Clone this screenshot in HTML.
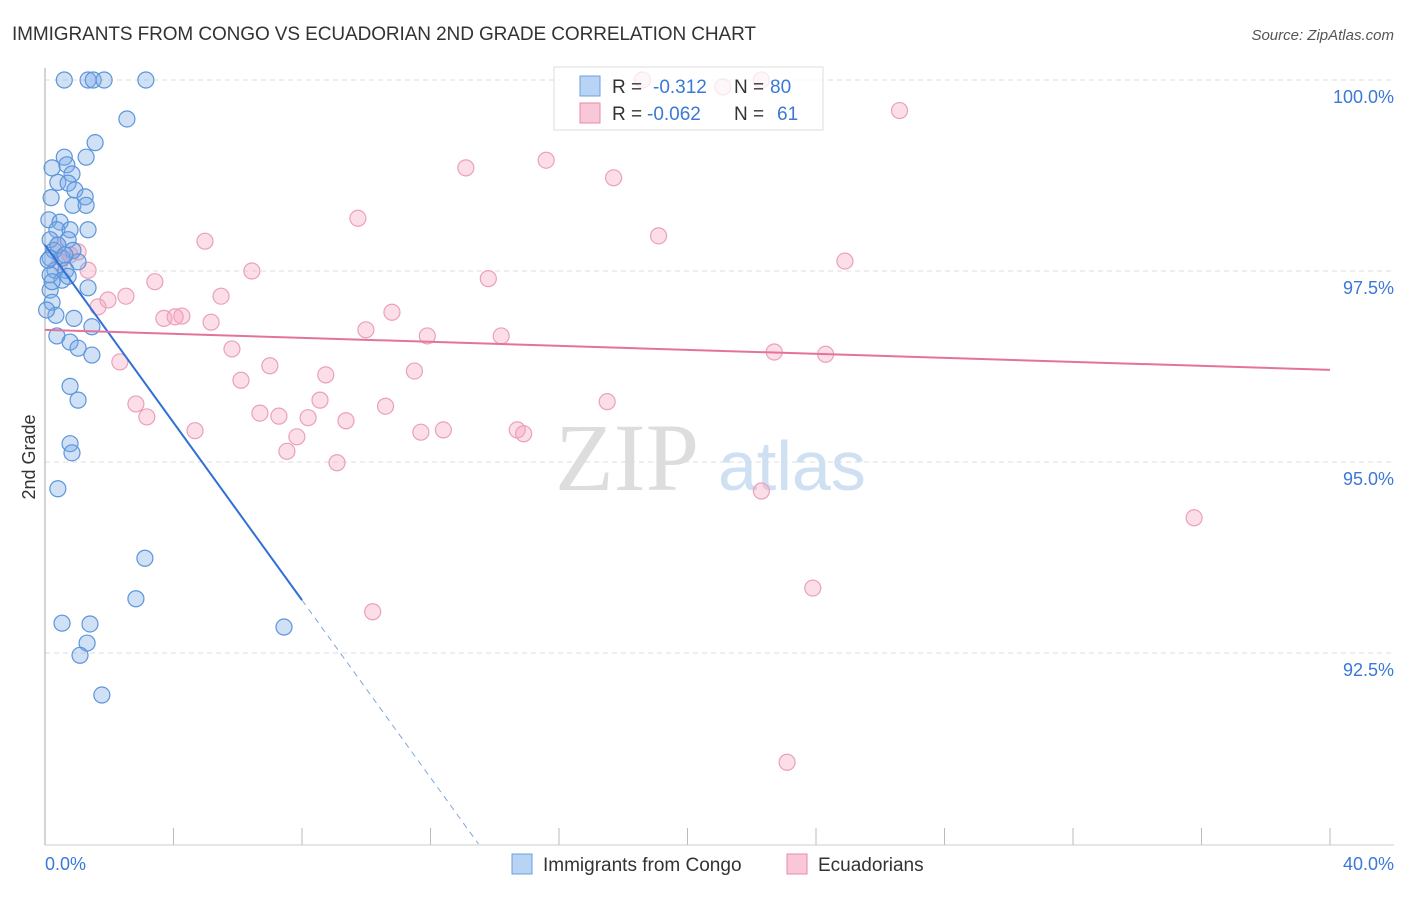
<!DOCTYPE html>
<html><head><meta charset="utf-8"><style>
body{margin:0;background:#fff;font-family:"Liberation Sans",sans-serif;}
</style></head><body>
<svg width="1406" height="892" xmlns="http://www.w3.org/2000/svg">
<text x="12" y="40" font-size="19" fill="#333" textLength="744">IMMIGRANTS FROM CONGO VS ECUADORIAN 2ND GRADE CORRELATION CHART</text>
<text x="1394" y="40" font-size="15" fill="#555" text-anchor="end" font-style="italic">Source: ZipAtlas.com</text>
<g id="grid"></g>
<g>
<text x="555" y="490" font-size="96" font-family="Liberation Serif,serif" fill="#ddd">ZIP</text>
<text x="718" y="490" font-size="70" fill="#cfe0f3">atlas</text>
</g>
<line x1="45" y1="68" x2="45" y2="845" stroke="#aaa"/>
<line x1="45" y1="845" x2="1394" y2="845" stroke="#ccc"/>
<text x="35" y="457" font-size="18" fill="#333" text-anchor="middle" transform="rotate(-90 35 457)">2nd Grade</text>
<text x="45" y="870" font-size="18" fill="#3b78d8">0.0%</text>
<text x="1394" y="870" font-size="18" fill="#3b78d8" text-anchor="end">40.0%</text>
<g id="pts"></g>
<g id="lines"></g>
<g>
<rect x="554" y="67" width="269" height="63" fill="rgba(255,255,255,0.75)" stroke="#ddd"/>
<rect x="580" y="76" width="20" height="20" fill="#b8d3f3" stroke="#6a9fe0"/>
<rect x="580" y="103" width="20" height="20" fill="#f9c8d8" stroke="#e98aa9"/>
<text x="612" y="93" font-size="19" fill="#333">R =</text>
<text x="653" y="93" font-size="19" fill="#3b78d8">-0.312</text>
<text x="734" y="93" font-size="19" fill="#333">N =</text>
<text x="770" y="93" font-size="19" fill="#3b78d8">80</text>
<text x="612" y="120" font-size="19" fill="#333">R =</text>
<text x="647" y="120" font-size="19" fill="#3b78d8">-0.062</text>
<text x="734" y="120" font-size="19" fill="#333">N =</text>
<text x="777" y="120" font-size="19" fill="#3b78d8">61</text>
</g>
<g>
<rect x="512" y="854" width="20" height="20" fill="#b8d3f3" stroke="#6a9fe0"/>
<text x="543" y="871" font-size="19" fill="#333">Immigrants from Congo</text>
<rect x="787" y="854" width="20" height="20" fill="#f9c8d8" stroke="#e98aa9"/>
<text x="818" y="871" font-size="19" fill="#333">Ecuadorians</text>
</g>
</svg>
<script>
const yTicks=[100,97.5,95,92.5];
const yTickLabels=["100.0%","97.5%","95.0%","92.5%"];
const xTicks=[0,4,8,12,16,20,24,28,32,36,40];
const congoX=[0.6,1.34,1.5,1.84,3.14,2.55,1.56,1.28,0.6,0.22,0.68,0.84,0.4,0.72,0.93,1.25,0.19,0.87,1.28,0.12,0.47,0.37,0.78,1.34,0.16,0.72,0.28,0.87,0.16,0.53,1.03,0.31,0.65,0.16,0.53,1.34,0.16,0.22,0.34,0.9,1.46,0.37,0.78,1.03,1.46,0.78,1.03,0.78,0.84,0.4,3.11,2.83,0.53,1.4,1.31,1.09,1.77,7.44,0.1,0.4,0.62,0.05,0.22,0.72];
const congoY=[100,100,100,100,100,99.49,99.18,98.99,98.99,98.85,98.89,98.77,98.66,98.65,98.56,98.47,98.46,98.36,98.36,98.17,98.14,98.04,98.04,98.04,97.91,97.91,97.77,97.77,97.67,97.67,97.62,97.51,97.51,97.45,97.38,97.28,97.25,97.09,96.92,96.88,96.77,96.65,96.57,96.49,96.4,95.99,95.81,95.24,95.12,94.65,93.74,93.21,92.89,92.88,92.63,92.47,91.95,92.84,97.64,97.84,97.71,96.99,97.36,97.43];
const ecuX=[18.6,21.1,22.3,26.6,15.6,13.1,17.7,9.74,19.1,4.98,24.9,6.44,1.34,3.42,13.8,5.48,2.52,1.96,1.65,10.8,3.7,4.26,4.05,5.17,9.99,11.9,14.2,5.82,22.7,24.3,2.33,7.0,11.5,6.1,8.74,2.83,8.56,10.6,17.5,3.17,6.69,7.28,8.19,9.37,4.67,11.7,12.4,14.7,14.9,7.84,7.53,9.09,22.3,35.77,23.9,10.2,23.1,0.4,0.47,0.78,1.03];
const ecuY=[100,99.91,100,99.6,98.95,98.85,98.72,98.19,97.96,97.89,97.63,97.5,97.51,97.36,97.4,97.17,97.17,97.12,97.03,96.96,96.88,96.91,96.9,96.83,96.73,96.65,96.65,96.48,96.44,96.41,96.31,96.26,96.19,96.07,96.14,95.76,95.81,95.73,95.79,95.59,95.64,95.6,95.58,95.54,95.41,95.39,95.42,95.42,95.37,95.33,95.14,94.99,94.62,94.27,93.35,93.04,91.07,97.84,97.62,97.71,97.75];
const congoTrend=[97.84,-0.581];
const ecuTrend=[96.73,-0.0131];
const X=v=>45+v*32.125, Y=v=>80+(100-v)*76.4;
const NS="http://www.w3.org/2000/svg";
function mk(t,a,p){const e=document.createElementNS(NS,t);for(const k in a)e.setAttribute(k,a[k]);p.appendChild(e);return e;}
const grid=document.getElementById('grid');
yTicks.forEach((t,i)=>{
 const l=mk('line',{x1:45,x2:1394,y1:Y(t),y2:Y(t),stroke:'#ddd','stroke-dasharray':'5,4'},grid);
 
 
 const tx=mk('text',{x:1394,y:Y(t)+23,'font-size':18,fill:'#3b78d8','text-anchor':'end'},grid);
 tx.textContent=yTickLabels[i];
 
 
});
xTicks.forEach(t=>{
 const l=mk('line',{x1:X(t),x2:X(t),y1:828,y2:845,stroke:'#bbb'},grid);
 
 
});
const pts=document.getElementById('pts');
ecuX.forEach((x,i)=>{
 const c=mk('circle',{cx:X(x),cy:Y(ecuY[i]),r:8,fill:'rgba(245,160,190,0.35)',stroke:'#eba0ba','stroke-width':1.2},pts);
 
 
});
congoX.forEach((x,i)=>{
 const c=mk('circle',{cx:X(x),cy:Y(congoY[i]),r:8,fill:'rgba(120,170,230,0.35)',stroke:'#5b95dc','stroke-width':1.2},pts);
 
 
});
const lines=document.getElementById('lines');
const cy=x=>congoTrend[0]+congoTrend[1]*x;
const xEnd=(90-congoTrend[0])/congoTrend[1];
let l1=mk('line',{x1:X(0),y1:Y(cy(0)),x2:X(8),y2:Y(cy(8)),stroke:'#2f6fd6','stroke-width':2},lines);


let l2=mk('line',{x1:X(8),y1:Y(cy(8)),x2:X(xEnd),y2:Y(cy(xEnd)),stroke:'#7ea6e0','stroke-width':1,'stroke-dasharray':'6,5'},lines);


const ey=x=>ecuTrend[0]+ecuTrend[1]*x;
let l3=mk('line',{x1:X(0),y1:Y(ey(0)),x2:X(40),y2:Y(ey(40)),stroke:'#e4739a','stroke-width':2},lines);


</script>
</body></html>
